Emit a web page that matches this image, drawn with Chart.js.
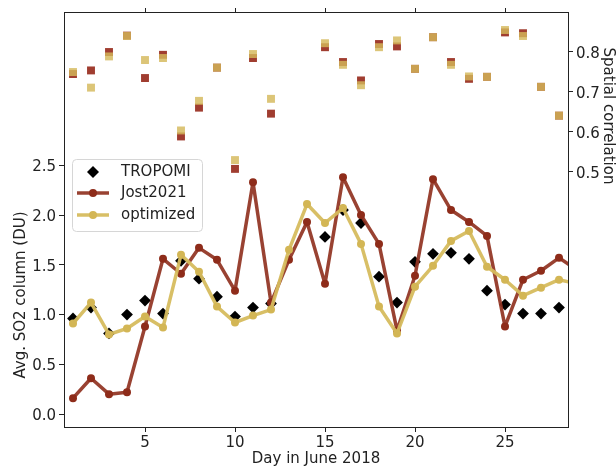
<!DOCTYPE html>
<html>
<head>
<meta charset="utf-8">
<script src="https://cdn.jsdelivr.net/npm/chart.js@4"></script>
<style>
  html, body { margin: 0; padding: 0; background: #fff; }
  #wrap { width: 616px; height: 466px; position: relative; }
</style>
</head>
<body>
<div id="wrap"><canvas id="chart"></canvas></div>
<script>
// ===== dados =====
const days = [1, 2, 3, 4, 5, 6, 7, 8, 9, 10, 11, 12, 13, 14, 15, 16, 17, 18, 19, 20, 21, 22, 23, 24, 25, 26, 27, 28, 29];

// SO2 medio (DU)
const tropomi   = [0.96, 1.07, 0.81, 1.00, 1.14, 1.01, 1.54, 1.36, 1.18, 0.98, 1.07, 1.11, null, null, 1.78, 2.05, 1.92, 1.38, 1.12, 1.53, 1.61, 1.62, 1.56, 1.24, 1.10, 1.01, 1.01, 1.07, null];
const jost2021  = [0.16, 0.36, 0.20, 0.22, 0.88, 1.56, 1.41, 1.67, 1.55, 1.24, 2.33, 1.12, 1.55, 1.93, 1.31, 2.38, 2.00, 1.71, 0.84, 1.39, 2.36, 2.05, 1.93, 1.79, 0.88, 1.35, 1.44, 1.57, 1.45];
const optimized = [0.91, 1.12, 0.80, 0.86, 0.98, 0.87, 1.60, 1.43, 1.08, 0.92, 0.99, 1.05, 1.65, 2.11, 1.92, 2.07, 1.71, 1.08, 0.81, 1.28, 1.49, 1.74, 1.84, 1.48, 1.35, 1.19, 1.27, 1.35, 1.31];

// correlacao espacial (eixo direito)
const corrJost = [0.744, 0.753, 0.799, 0.840, 0.734, 0.792, 0.588, 0.660, 0.760, 0.507, 0.784, 0.645, null, null, 0.811, 0.774, 0.728, 0.819, 0.813, 0.757, 0.836, 0.774, 0.732, 0.737, 0.848, 0.846, 0.712, 0.640, null];
const corrOpt  = [0.749, 0.710, 0.788, 0.839, 0.779, 0.784, 0.603, 0.677, 0.760, 0.529, 0.794, 0.682, null, null, 0.821, 0.767, 0.716, 0.811, 0.828, 0.757, 0.836, 0.767, 0.738, 0.737, 0.854, 0.839, 0.712, 0.640, null];

// ticks
const xTicks  = [5, 10, 15, 20, 25];
const yTicks  = [0.0, 0.5, 1.0, 1.5, 2.0, 2.5];
const y2Ticks = [0.5, 0.6, 0.7, 0.8];

const FONT = 'DejaVu Sans';
const INK = '#222';
const RED_LINE = 'rgba(145,52,34,0.93)';
const RED_PT = '#8e2c1a';
const YEL_LINE = 'rgba(214,188,94,0.95)';
const YEL_PT = '#d3b655';

const pts = arr => days.map((d, i) => ({ x: d, y: arr[i] }));
const setTicks = list => scale => { scale.ticks = list.map(v => ({ value: v })); };

// legenda dentro da area do grafico
const insideLegend = {
    id: 'insideLegend',
    afterDatasetsDraw(chart) {
        const ctx = chart.ctx;
        ctx.save();
        ctx.beginPath();
        ctx.roundRect(72.5, 159.5, 130, 72, 4);
        ctx.fillStyle = 'rgba(255,255,255,0.85)';
        ctx.fill();
        ctx.strokeStyle = '#d6d6d6';
        ctx.lineWidth = 1;
        ctx.stroke();

        // TROPOMI
        ctx.fillStyle = '#000';
        ctx.beginPath();
        ctx.moveTo(93, 166); ctx.lineTo(99, 172); ctx.lineTo(93, 178); ctx.lineTo(87, 172);
        ctx.closePath(); ctx.fill();

        // linhas
        [[193, RED_LINE, RED_PT], [215, YEL_LINE, YEL_PT]].forEach(([y, lc, pc]) => {
            ctx.strokeStyle = lc; ctx.lineWidth = 3.5;
            ctx.beginPath(); ctx.moveTo(77, y); ctx.lineTo(109, y); ctx.stroke();
            ctx.fillStyle = pc;
            ctx.beginPath(); ctx.arc(93, y, 4, 0, Math.PI * 2); ctx.fill();
        });

        ctx.fillStyle = INK;
        ctx.font = '15px "' + FONT + '"';
        ctx.textBaseline = 'middle';
        ctx.textAlign = 'left';
        ctx.fillText('TROPOMI', 121, 172);
        ctx.fillText('Jost2021', 121, 193);
        ctx.fillText('optimized', 121, 215);
        ctx.restore();
    }
};

// titulos dos eixos
const axisTitles = {
    id: 'axisTitles',
    afterDraw(chart) {
        const ctx = chart.ctx;
        ctx.save();
        ctx.fillStyle = INK;
        ctx.font = '15px "' + FONT + '"';
        ctx.textAlign = 'center';
        ctx.textBaseline = 'middle';
        ctx.fillText('Day in June 2018', 316, 459);

        ctx.translate(21, 295);
        ctx.rotate(-Math.PI / 2);
        ctx.fillText('Avg. SO2 column (DU)', 0, 0);
        ctx.restore();

        ctx.save();
        ctx.fillStyle = INK;
        ctx.font = '15px "' + FONT + '"';
        ctx.textAlign = 'center';
        ctx.textBaseline = 'middle';
        ctx.translate(608, 116);
        ctx.rotate(Math.PI / 2);
        ctx.fillText('Spatial correlation', 0, 0);
        ctx.restore();
    }
};

const tickFont = { family: FONT, size: 15 };
const axisBase = {
    border: { color: INK, width: 1 },
    grid: { drawOnChartArea: false, tickLength: 5, tickColor: INK, tickWidth: 1 },
    ticks: { font: tickFont, color: INK, padding: 2, maxRotation: 0, autoSkip: false }
};

new Chart(document.getElementById('chart'), {
    type: 'line',
    data: {
        datasets: [
            {
                label: 'corr Jost2021', data: pts(corrJost), yAxisID: 'y2', xAxisID: 'x',
                showLine: false, pointStyle: 'rect', pointRadius: 5.6,
                pointBackgroundColor: 'rgba(150,40,25,0.9)', pointBorderWidth: 0, order: 4
            },
            {
                label: 'corr optimized', data: pts(corrOpt), yAxisID: 'y2', xAxisID: 'x',
                showLine: false, pointStyle: 'rect', pointRadius: 5.6,
                pointBackgroundColor: 'rgba(212,184,90,0.82)', pointBorderWidth: 0, order: 3
            },
            {
                label: 'TROPOMI', data: pts(tropomi), yAxisID: 'y', xAxisID: 'x',
                showLine: false, pointStyle: 'rectRot', pointRadius: 5.9,
                pointBackgroundColor: '#000', pointBorderWidth: 0, order: 2
            },
            {
                label: 'Jost2021', data: pts(jost2021), yAxisID: 'y', xAxisID: 'x',
                borderColor: RED_LINE, borderWidth: 3.5, tension: 0,
                borderJoinStyle: 'round', borderCapStyle: 'round',
                pointRadius: 4, pointBackgroundColor: RED_PT, pointBorderColor: RED_PT, pointBorderWidth: 0,
                order: 1
            },
            {
                label: 'optimized', data: pts(optimized), yAxisID: 'y', xAxisID: 'x',
                borderColor: YEL_LINE, borderWidth: 3.5, tension: 0,
                borderJoinStyle: 'round', borderCapStyle: 'round',
                pointRadius: 4, pointBackgroundColor: YEL_PT, pointBorderColor: YEL_PT, pointBorderWidth: 0,
                order: 0
            }
        ]
    },
    options: {
        responsive: true,
        maintainAspectRatio: false,
        animation: false,
        events: [],
        layout: { padding: 0 },
        plugins: { legend: { display: false }, tooltip: { enabled: false } },
        scales: {
            x: Object.assign({}, axisBase, {
                type: 'linear', position: 'bottom', min: 0.5, max: 28.5,
                afterBuildTicks: setTicks(xTicks),
                afterFit: s => { s.height = 39; }
            }),
            xTop: {
                type: 'linear', position: 'top', min: 0.5, max: 28.5,
                border: { color: INK, width: 1 },
                grid: { drawOnChartArea: false, tickLength: 4, tickColor: INK },
                ticks: { display: false },
                afterBuildTicks: setTicks(xTicks),
                afterFit: s => { s.height = 12; }
            },
            y: Object.assign({}, axisBase, {
                type: 'linear', position: 'left', min: -0.13, max: 4.04,
                afterBuildTicks: setTicks(yTicks),
                ticks: Object.assign({}, axisBase.ticks, { padding: 3, labelOffset: 2, callback: v => v.toFixed(1) }),
                afterFit: s => { s.width = 64; }
            }),
            y2: Object.assign({}, axisBase, {
                type: 'linear', position: 'right', min: -0.138, max: 0.899,
                afterBuildTicks: setTicks(y2Ticks),
                ticks: Object.assign({}, axisBase.ticks, { padding: 3, labelOffset: 2, callback: v => v.toFixed(1) }),
                afterFit: s => { s.width = 48; }
            })
        }
    },
    plugins: [insideLegend, axisTitles]
});
</script>
</body>
</html>
